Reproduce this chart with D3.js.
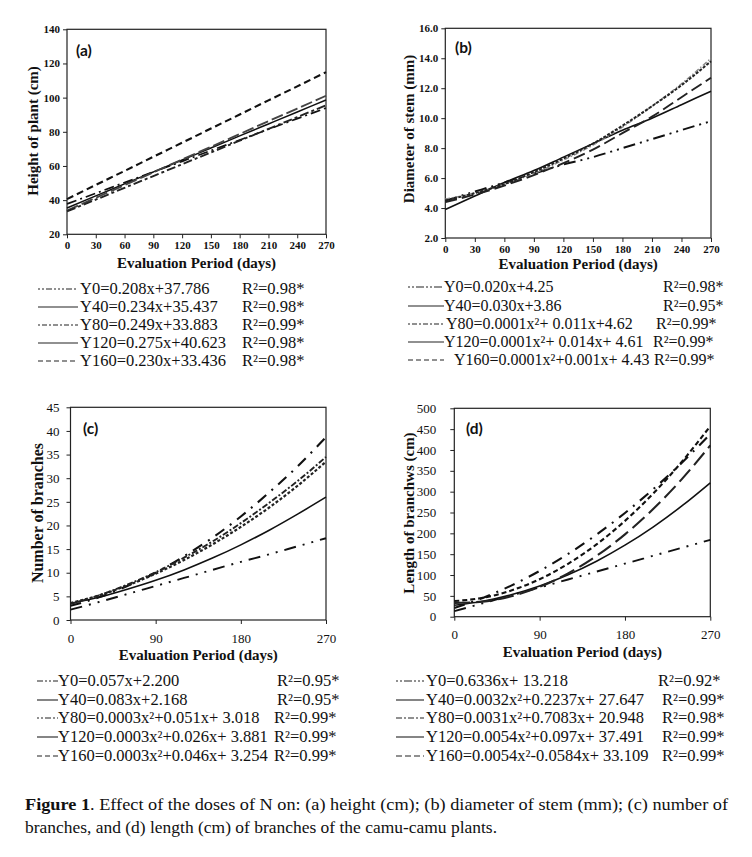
<!DOCTYPE html>
<html>
<head>
<meta charset="utf-8">
<script src="https://cdn.jsdelivr.net/npm/d3@7"></script>
<style>
  html, body { margin: 0; padding: 0; background: #fff; }
  svg { display: block; }
  text { font-family: "Liberation Serif", "Times New Roman", serif; fill: #111; }
</style>
</head>
<body>
<svg id="chart" width="752" height="857"></svg>
<script>
// ---------------- DATA ----------------
const days = [0, 30, 60, 90, 120, 150, 180, 210, 240, 270];
const seriesNames = ["Y0", "Y40", "Y80", "Y120", "Y160"];

// (a) Height of plant (cm)
const heightY0   = [37.8, 44.0, 50.3, 56.5, 62.7, 69.0, 75.2, 81.5, 87.7, 93.9];
const heightY40  = [35.4, 42.5, 49.5, 56.5, 63.5, 70.5, 77.6, 84.6, 91.6, 98.6];
const heightY80  = [33.9, 41.4, 48.8, 56.3, 63.8, 71.2, 78.7, 86.2, 93.6, 101.1];
const heightY120 = [40.6, 48.9, 57.1, 65.4, 73.6, 81.9, 90.1, 98.4, 106.6, 114.9];
const heightY160 = [33.4, 40.3, 47.2, 54.1, 61.0, 67.9, 74.8, 81.7, 88.6, 95.5];

// (b) Diameter of stem (mm)
const diamY0   = [4.5, 5.1, 5.7, 6.3, 6.9, 7.4, 8.0, 8.6, 9.2, 9.8];
const diamY40  = [3.9, 4.8, 5.7, 6.5, 7.4, 8.3, 9.2, 10.0, 10.9, 11.8];
const diamY80  = [4.6, 5.0, 5.6, 6.3, 7.2, 8.2, 9.4, 10.8, 12.3, 14.0];
const diamY120 = [4.5, 5.0, 5.6, 6.4, 7.3, 8.3, 9.5, 10.8, 12.2, 13.8];
const diamY160 = [4.4, 4.9, 5.5, 6.2, 7.0, 7.9, 9.0, 10.1, 11.4, 12.7];

// (c) Number of branches
const branchY0   = [2.2, 3.8, 5.5, 7.2, 8.9, 10.6, 12.3, 13.9, 15.6, 17.3];
const branchY40  = [3.5, 4.8, 6.5, 8.4, 10.6, 13.1, 15.9, 19.0, 22.4, 26.0];
const branchY80  = [3.0, 4.8, 7.2, 10.0, 13.5, 17.4, 21.9, 27.0, 32.5, 38.7];
const branchY120 = [3.6, 5.2, 7.3, 9.8, 12.7, 16.0, 19.7, 23.8, 28.4, 33.5];
const branchY160 = [3.4, 5.2, 7.5, 10.1, 13.2, 16.6, 20.5, 24.8, 29.4, 34.5];

// (d) Length of branches (cm)
const lengthY0   = [13.2, 32.2, 51.2, 70.2, 89.2, 108.3, 127.3, 146.3, 165.3, 184.3];
const lengthY40  = [27.6, 37.2, 52.6, 73.7, 100.6, 133.2, 171.6, 215.7, 265.7, 321.3];
const lengthY80  = [20.9, 45.0, 74.6, 109.8, 150.6, 196.9, 248.9, 306.4, 369.5, 438.2];
const lengthY120 = [37.5, 45.3, 62.8, 90.0, 126.9, 173.5, 229.9, 296.0, 371.8, 457.3];
const lengthY160 = [33.1, 36.2, 49.0, 71.6, 103.9, 145.8, 197.6, 259.0, 330.1, 411.0];

// tick values
const xTicksAB = [0, 30, 60, 90, 120, 150, 180, 210, 240, 270];
const xTicksCD = [0, 90, 180, 270];
const yTicksA = [20, 40, 60, 80, 100, 120, 140];
const yTicksB = [2, 4, 6, 8, 10, 12, 14, 16];
const yTicksC = [0, 5, 10, 15, 20, 25, 30, 35, 40, 45];
const yTicksD = [0, 50, 100, 150, 200, 250, 300, 350, 400, 450, 500];

// legend texts
const eqA = ["Y0=0.208x+37.786", "Y40=0.234x+35.437", "Y80=0.249x+33.883", "Y120=0.275x+40.623", "Y160=0.230x+33.436"];
const r2A = ["0.98*", "0.98*", "0.99*", "0.98*", "0.98*"];
const eqB = ["Y0=0.020x+4.25", "Y40=0.030x+3.86", "Y80=0.0001x\u00B2+ 0.011x+4.62", "Y120=0.0001x\u00B2+ 0.014x+ 4.61", "Y160=0.0001x\u00B2+0.001x+ 4.43"];
const r2B = ["0.98*", "0.95*", "0.99*", "0.99*", "0.99*"];
const eqC = ["Y0=0.057x+2.200", "Y40=0.083x+2.168", "Y80=0.0003x\u00B2+0.051x+ 3.018", "Y120=0.0003x\u00B2+0.026x+ 3.881", "Y160=0.0003x\u00B2+0.046x+ 3.254"];
const r2C = ["0.95*", "0.95*", "0.99*", "0.99*", "0.99*"];
const eqD = ["Y0=0.6336x+ 13.218", "Y40=0.0032x\u00B2+0.2237x+ 27.647", "Y80=0.0031x\u00B2+0.7083x+ 20.948", "Y120=0.0054x\u00B2+0.097x+ 37.491", "Y160=0.0054x\u00B2-0.0584x+ 33.109"];
const r2D = ["0.92*", "0.99*", "0.98*", "0.99*", "0.99*"];

// ---------------- STYLES / LAYOUT ----------------
const svg = d3.select("#chart");
const titleColor = "#2a2218";
const serif = '"Liberation Serif", "Times New Roman", serif';

const panels = [
  {
    label: "(a)", labelPos: [76, 56],
    box: { x0: 67, x1: 326, y0: 29.3, y1: 234.3 },
    yDomain: [20, 140], yTicks: yTicksA, yFmt: d3.format("d"),
    xTicks: xTicksAB, tickFont: 11, tickWeight: "bold", xPad: 3, yPad: 3,
    yTitle: "Height of plant (cm)", yTitlePos: [33, 131], yTitleSize: 15,
    xTitle: "Evaluation Period (days)", xTitleY: 268, xTitleSize: 15,
    series: [heightY0, heightY40, heightY80, heightY120, heightY160],
    styles: [
      { dash: "10,4,2,4", w: 1.7, c: "#111" },
      { dash: null, w: 1.5, c: "#111" },
      { dash: "12,4", w: 1.9, c: "#444" },
      { dash: "7,4", w: 2.1, c: "#111" },
      { dash: "9,3,3,3", w: 1.9, c: "#222" }
    ],
    legend: { size: 16.5, eq: eqA, r2: r2A, lx1: 38, lx2: 78, tx: [80, 80, 80, 80, 80], rx: [242, 242, 242, 242, 242],
      by: [294, 312, 330, 348, 366],
      dash: ["2,2,2,2,6,2,2,2", null, "2,2,5,2", null, "5,3"] }
  },
  {
    label: "(b)", labelPos: [455, 53],
    box: { x0: 445.3, x1: 711, y0: 28.3, y1: 238 },
    yDomain: [2, 16], yTicks: yTicksB, yFmt: d3.format(".1f"),
    xTicks: xTicksAB, tickFont: 11, tickWeight: "bold", xPad: 3, yPad: 3,
    yTitle: "Diameter of stem (mm)", yTitlePos: [409, 129], yTitleSize: 15,
    xTitle: "Evaluation Period (days)", xTitleY: 269, xTitleSize: 15,
    series: [diamY0, diamY40, diamY80, diamY120, diamY160],
    styles: [
      { dash: "12,5,2,5,2,5", w: 1.9, c: "#111" },
      { dash: null, w: 1.6, c: "#111" },
      { dash: "5,2,1.5,2", w: 1.4, c: "#8a8a8a" },
      { dash: "3,1.5", w: 2.0, c: "#222" },
      { dash: "12,5", w: 1.9, c: "#222" }
    ],
    legend: { size: 16, eq: eqB, r2: r2B, lx1: 408, lx2: 444, tx: [444, 444, 446, 444, 454], rx: [663, 663, 656, 653, 654],
      by: [292, 311, 329, 347, 365],
      dash: ["2,2,2,2,8,2", null, "2,2,5,2", null, "5,3"] }
  },
  {
    label: "(c)", labelPos: [83, 434],
    box: { x0: 70.5, x1: 326, y0: 407.3, y1: 620 },
    yDomain: [0, 45], yTicks: yTicksC, yFmt: d3.format("d"),
    xTicks: xTicksCD, tickFont: 13, tickWeight: "normal", xPad: 10, yPad: 7,
    yTitle: "Number of branches", yTitlePos: [37, 513], yTitleSize: 16,
    xTitle: "Evaluation Period (days)", xTitleY: 660, xTitleSize: 15,
    series: [branchY0, branchY40, branchY80, branchY120, branchY160],
    styles: [
      { dash: "12,7,2,7,2,7", w: 1.9, c: "#111" },
      { dash: null, w: 1.6, c: "#111" },
      { dash: "11,7,2,7", w: 2.1, c: "#111" },
      { dash: "3,2", w: 2.2, c: "#222" },
      { dash: "6,2,2,2", w: 1.9, c: "#222" }
    ],
    legend: { size: 16.5, eq: eqC, r2: r2C, lx1: 37, lx2: 58, tx: [58, 58, 58, 58, 58], rx: [277, 277, 274, 274, 274],
      by: [686, 705, 723, 742, 761],
      dash: ["6,2,2,2,2,2", null, "2,2,2,2,6,2", null, "5,3"] }
  },
  {
    label: "(d)", labelPos: [466, 434],
    box: { x0: 454.3, x1: 710.3, y0: 408.3, y1: 616.7 },
    yDomain: [0, 500], yTicks: yTicksD, yFmt: d3.format("d"),
    xTicks: xTicksCD, tickFont: 13, tickWeight: "normal", xPad: 9, yPad: 14,
    yTitle: "Length of branchws (cm)", yTitlePos: [409, 513], yTitleSize: 15,
    xTitle: "Evaluation Period (days)", xTitleY: 657, xTitleSize: 15,
    series: [lengthY0, lengthY40, lengthY80, lengthY120, lengthY160],
    styles: [
      { dash: "12,7,2,7,2,7", w: 1.9, c: "#111" },
      { dash: null, w: 1.6, c: "#111" },
      { dash: "11,7,2,7", w: 2.1, c: "#111" },
      { dash: "5,3", w: 2.1, c: "#111" },
      { dash: "16,6", w: 2.1, c: "#222" }
    ],
    legend: { size: 16.5, eq: eqD, r2: r2D, lx1: 396, lx2: 424, tx: [426, 426, 426, 426, 426], rx: [658, 662, 662, 662, 662],
      by: [686, 705, 723, 742, 761],
      dash: ["2,2,2,2,8,2", null, "6,2,2,2", null, "6,3"] }
  }
];

panels.forEach(p => {
  const b = p.box;
  const x = d3.scaleLinear().domain([0, 270]).range([b.x0, b.x1]);
  const y = d3.scaleLinear().domain(p.yDomain).range([b.y1, b.y0]);
  const g = svg.append("g");

  // axes
  const xAxis = d3.axisBottom(x).tickValues(p.xTicks).tickSize(4).tickSizeOuter(0).tickPadding(p.xPad).tickFormat(d3.format("d"));
  const yAxis = d3.axisLeft(y).tickValues(p.yTicks).tickSize(4).tickSizeOuter(0).tickPadding(p.yPad).tickFormat(p.yFmt);
  const gx = g.append("g").attr("transform", `translate(0,${b.y1})`).call(xAxis);
  const gy = g.append("g").attr("transform", `translate(${b.x0},0)`).call(yAxis);
  [gx, gy].forEach(ax => {
    ax.attr("font-family", serif);
    ax.selectAll("path.domain").remove();
    ax.selectAll("line").attr("stroke", "#222").attr("stroke-width", 1);
    ax.selectAll("text")
      .style("font-family", serif)
      .style("font-size", p.tickFont + "px")
      .style("font-weight", p.tickWeight)
      .attr("fill", "#111");
  });

  // frame
  g.append("rect")
    .attr("x", b.x0).attr("y", b.y0)
    .attr("width", b.x1 - b.x0).attr("height", b.y1 - b.y0)
    .attr("fill", "none").attr("stroke", "#222").attr("stroke-width", 1.2);

  // curves
  const line = d3.line().x((d, i) => x(days[i])).y(d => y(d)).curve(d3.curveMonotoneX);
  p.series.forEach((s, i) => {
    const st = p.styles[i];
    g.append("path")
      .datum(s)
      .attr("d", line)
      .attr("fill", "none")
      .attr("stroke", st.c)
      .attr("stroke-width", st.w)
      .attr("stroke-dasharray", st.dash);
  });

  // panel label
  g.append("text")
    .attr("x", p.labelPos[0]).attr("y", p.labelPos[1])
    .style("font-family", "Lato, 'Open Sans', sans-serif")
    .style("font-weight", "bold")
    .style("font-size", "15.5px")
    .text(p.label);

  // axis titles
  g.append("text")
    .attr("transform", `translate(${p.yTitlePos[0]},${p.yTitlePos[1]}) rotate(-90)`)
    .attr("text-anchor", "middle")
    .attr("dominant-baseline", "central")
    .style("font-family", serif)
    .style("font-weight", "bold")
    .style("font-size", p.yTitleSize + "px")
    .attr("fill", titleColor)
    .text(p.yTitle);
  g.append("text")
    .attr("x", (b.x0 + b.x1) / 2).attr("y", p.xTitleY)
    .attr("text-anchor", "middle")
    .style("font-family", serif)
    .style("font-weight", "bold")
    .style("font-size", p.xTitleSize + "px")
    .attr("fill", titleColor)
    .text(p.xTitle);

  // legend
  const L = p.legend;
  seriesNames.forEach((name, i) => {
    g.append("line")
      .attr("x1", L.lx1).attr("x2", L.lx2)
      .attr("y1", L.by[i] - 5).attr("y2", L.by[i] - 5)
      .attr("stroke", "#222").attr("stroke-width", 1.1)
      .attr("stroke-dasharray", L.dash[i]);
    g.append("text")
      .attr("x", L.tx[i]).attr("y", L.by[i])
      .style("font-family", serif)
      .style("font-size", L.size + "px")
      .text(L.eq[i]);
    g.append("text")
      .attr("x", L.rx[i]).attr("y", L.by[i])
      .style("font-family", serif)
      .style("font-size", L.size + "px")
      .text("R\u00B2=" + L.r2[i]);
  });
});

// caption
const cap = svg.append("text").attr("x", 25).attr("y", 810)
  .style("font-family", serif).style("font-size", "17px")
  .attr("textLength", 703).attr("lengthAdjust", "spacingAndGlyphs");
cap.append("tspan").style("font-weight", "bold").text("Figure 1");
cap.append("tspan").text(". Effect of the doses of N on: (a) height (cm); (b) diameter of stem (mm); (c) number of");
svg.append("text").attr("x", 25).attr("y", 833)
  .style("font-family", serif).style("font-size", "17px")
  .attr("textLength", 472).attr("lengthAdjust", "spacingAndGlyphs")
  .text("branches, and (d) length (cm) of branches of the camu-camu plants.");
</script>
</body>
</html>
